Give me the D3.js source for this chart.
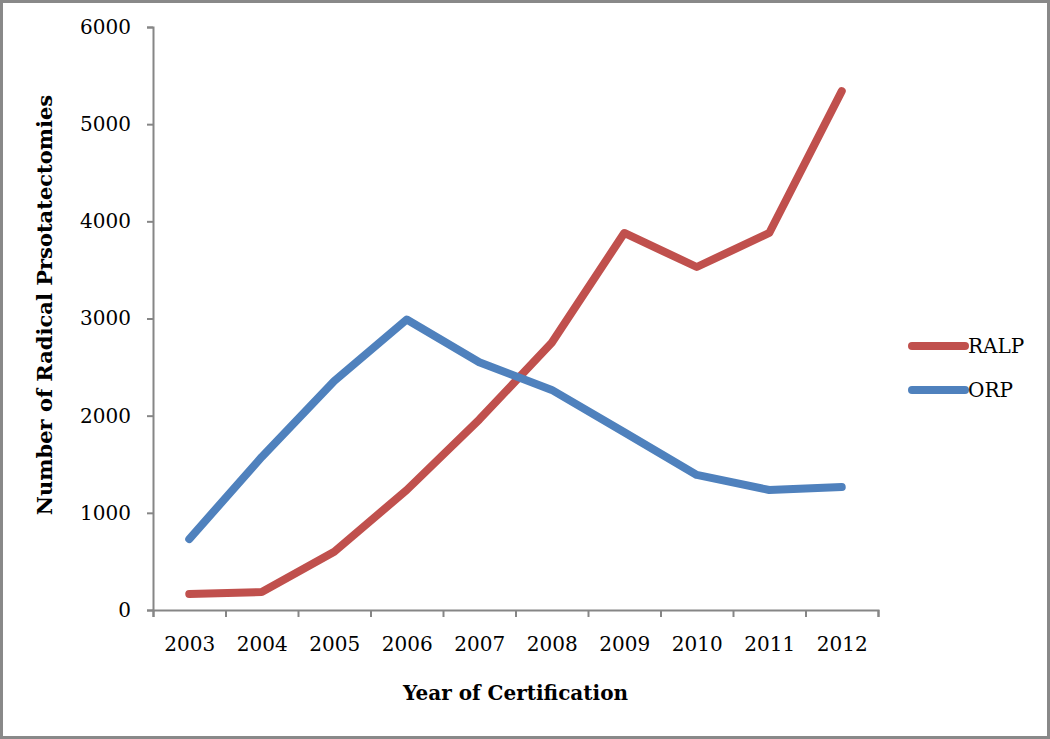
<!DOCTYPE html>
<html>
<head>
<meta charset="utf-8">
<script src="https://cdn.jsdelivr.net/npm/d3@7"></script>
<style>
  body { margin: 0; background: #fff; }
  text { font-family: "DejaVu Serif", serif; fill: #000; }
</style>
</head>
<body>
<div id="chart"></div>
<script>
const years = ["2003", "2004", "2005", "2006", "2007", "2008", "2009", "2010", "2011", "2012"];
const ralp = [165, 185, 600, 1235, 1960, 2750, 3880, 3530, 3880, 5340];
const orp = [730, 1575, 2357, 2990, 2550, 2265, 1830, 1390, 1235, 1265];
const yTicks = [0, 1000, 2000, 3000, 4000, 5000, 6000];

const series = [
  { name: "RALP", values: ralp, color: "#C0504D" },
  { name: "ORP", values: orp, color: "#4F81BD" },
];

const W = 1050, H = 739;
const plot = { left: 153, right: 878, top: 27, bottom: 610 };
const axisColor = "#868686";

const svg = d3.select("#chart").append("svg")
  .attr("width", W)
  .attr("height", H);

// outer frame
svg.append("rect")
  .attr("x", 1.5).attr("y", 1.5)
  .attr("width", W - 3).attr("height", H - 3)
  .attr("fill", "#fff")
  .attr("stroke", "#898989")
  .attr("stroke-width", 3);

const x = d3.scalePoint()
  .domain(years)
  .range([plot.left, plot.right])
  .padding(0.5);

// boundaries between categories, for tick marks
const xEdge = d3.scaleLinear()
  .domain([0, years.length])
  .range([plot.left, plot.right]);

const y = d3.scaleLinear()
  .domain([0, 6000])
  .range([plot.bottom, plot.top]);

// y axis
const yAxis = svg.append("g")
  .attr("transform", `translate(${plot.left},0)`)
  .call(d3.axisLeft(y).tickValues(yTicks).tickSize(6).tickPadding(16).tickFormat(d3.format("d")));
yAxis.select(".domain").attr("stroke", axisColor).attr("stroke-width", 2);
yAxis.selectAll(".tick line").attr("stroke", axisColor).attr("stroke-width", 2);
yAxis.selectAll("text")
  .style("font-family", "DejaVu Serif")
  .style("font-size", "20px")
  .attr("fill", "#000");

// x axis: tick marks at category edges
const xTicks = svg.append("g")
  .attr("transform", `translate(0,${plot.bottom})`)
  .call(d3.axisBottom(xEdge).tickValues(d3.range(years.length + 1)).tickSize(7).tickFormat(""));
xTicks.select(".domain").attr("stroke", axisColor).attr("stroke-width", 2);
xTicks.selectAll(".tick line").attr("stroke", axisColor).attr("stroke-width", 2);

// x axis labels at category centres
const xLabels = svg.append("g")
  .attr("transform", `translate(0,${plot.bottom})`)
  .call(d3.axisBottom(x).tickSize(0).tickPadding(27));
xLabels.select(".domain").remove();
xLabels.selectAll("text")
  .style("font-family", "DejaVu Serif")
  .style("font-size", "20px")
  .attr("fill", "#000");

// lines
const line = d3.line()
  .x((d, i) => x(years[i]))
  .y(d => y(d));

series.forEach(s => {
  svg.append("path")
    .datum(s.values)
    .attr("fill", "none")
    .attr("stroke", s.color)
    .attr("stroke-width", 8)
    .attr("stroke-linecap", "round")
    .attr("stroke-linejoin", "round")
    .attr("d", line);
});

// axis titles
svg.append("text")
  .attr("x", (plot.left + plot.right) / 2)
  .attr("y", 700)
  .attr("text-anchor", "middle")
  .style("font-size", "20px")
  .style("font-weight", "bold")
  .text("Year of Certification");

svg.append("text")
  .attr("transform", "translate(52,305) rotate(-90)")
  .attr("text-anchor", "middle")
  .style("font-size", "21px")
  .style("font-weight", "bold")
  .text("Number of Radical Prsotatectomies");

// legend
const legend = svg.append("g").attr("transform", "translate(912,346)");
series.forEach((s, i) => {
  const g = legend.append("g").attr("transform", `translate(0,${i * 44})`);
  g.append("line")
    .attr("x1", 0).attr("x2", 53)
    .attr("stroke", s.color)
    .attr("stroke-width", 8)
    .attr("stroke-linecap", "round");
  g.append("text")
    .attr("x", 56)
    .attr("y", 7)
    .style("font-size", "20px")
    .text(s.name);
});
</script>
</body>
</html>
